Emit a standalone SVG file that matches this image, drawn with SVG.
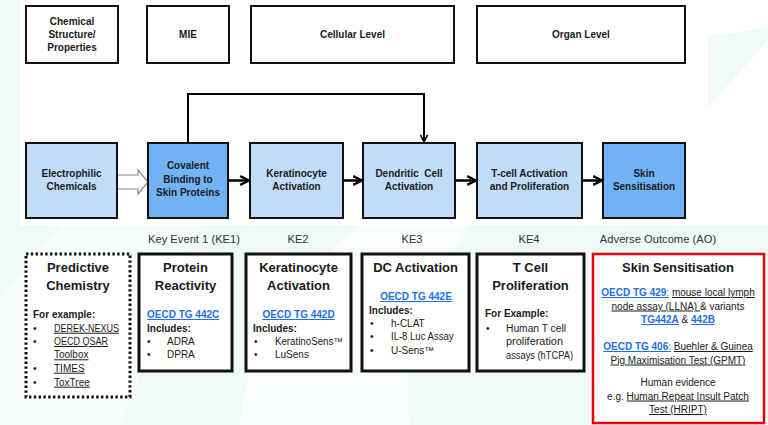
<svg xmlns="http://www.w3.org/2000/svg" width="768" height="425" viewBox="0 0 768 425">
  <defs>
    <marker id="arrow" viewBox="0 0 10 10" refX="9" refY="5" markerWidth="11" markerHeight="11" markerUnits="userSpaceOnUse" orient="auto">
      <path d="M1,1 L9,5 L1,9" fill="none" stroke="#000" stroke-width="2.2" stroke-linejoin="miter"/>
    </marker>
    <marker id="arrowSmall" viewBox="0 0 10 10" refX="9" refY="5" markerWidth="9" markerHeight="9" markerUnits="userSpaceOnUse" orient="auto">
      <path d="M1,1 L9,5 L1,9" fill="none" stroke="#000" stroke-width="1.8"/>
    </marker>
  </defs>
  <style>
    text { font-family: "Liberation Sans", Arial, sans-serif; fill: #1a1a1a; }
    .hdr { fill: #fff; stroke: #111; stroke-width: 2; }
    .light { fill: #c0dcfa; stroke: #111; stroke-width: 2; }
    .dark { fill: #72b3f6; stroke: #111; stroke-width: 2; }
    .panel { fill: #fff; stroke: #111; stroke-width: 3; }
    .dotted { fill: #fff; stroke: #111; stroke-width: 3; stroke-dasharray: 2.4 2.4; }
    .red { fill: #fff; stroke: #e8000b; stroke-width: 2.5; }
    .lbl { font-size: 10px; font-weight: bold; text-anchor: middle; }
    .ke { font-size: 11.2px; text-anchor: middle; fill: #333; }
    .title { font-size: 13px; font-weight: bold; text-anchor: middle; }
    .body { font-size: 10px; }
    .b { font-weight: bold; }
    .c { text-anchor: middle; }
    .link { fill: #1f6fe5; font-weight: bold; text-decoration: underline; }
    .ul { text-decoration: underline; }
    .flow { fill: none; stroke: #000; stroke-width: 2.5; }
  </style>

  <!-- backdrop -->
  <rect x="0" y="0" width="768" height="425" fill="#eff9f7"/>
  <polygon points="0,300 60,226 200,226 120,425 0,425" fill="#f6fcfb"/>
  <path d="M240,425 C250,330 300,270 360,226 L470,226 C420,300 400,360 410,425 Z" fill="#f8fdfc"/>
  <rect x="20" y="0" width="688" height="226" fill="#fff"/>
  <polygon points="697,0 768,0 768,28 697,38" fill="#fff"/>
  <polygon points="697,120 768,40 768,226 697,226" fill="#fff"/>

  <!-- level headers -->
  <g id="hdr-chemical">
    <rect class="hdr" x="26" y="6" width="92" height="57"/>
    <text class="lbl" x="72" y="24.5">Chemical</text>
    <text class="lbl" x="72" y="37.8">Structure/</text>
    <text class="lbl" x="72" y="51">Properties</text>
  </g>
  <g id="hdr-mie">
    <rect class="hdr" x="147" y="6" width="82" height="57"/>
    <text class="lbl" x="188" y="38">MIE</text>
  </g>
  <g id="hdr-cellular">
    <rect class="hdr" x="251" y="6" width="203" height="57"/>
    <text class="lbl" x="352.5" y="38">Cellular Level</text>
  </g>
  <g id="hdr-organ">
    <rect class="hdr" x="477" y="6" width="208" height="57"/>
    <text class="lbl" x="581" y="38">Organ Level</text>
  </g>

  <!-- pathway connectors -->
  <g id="connectors">
    <polygon points="117,175 138,175 138,170 148,182 138,194 138,189 117,189" fill="#fff" stroke="#8a8a8a" stroke-width="1.2"/>
    <path class="flow" d="M228,180.5 H249" marker-end="url(#arrow)"/>
    <path class="flow" d="M343,180.5 H362" marker-end="url(#arrow)"/>
    <path class="flow" d="M455,180.5 H476" marker-end="url(#arrow)"/>
    <path class="flow" d="M582,180.5 H602" marker-end="url(#arrow)"/>
    <path d="M188,143 V94 H424 V142" fill="none" stroke="#000" stroke-width="2" marker-end="url(#arrowSmall)"/>
  </g>

  <!-- pathway events -->
  <g id="electrophilic">
    <rect class="light" x="26" y="143" width="91" height="75"/>
    <text class="lbl" x="71.5" y="176.7">Electrophilic</text>
    <text class="lbl" x="71.5" y="190">Chemicals</text>
  </g>
  <g id="covalent">
    <rect class="dark" x="148" y="143" width="80" height="75"/>
    <text class="lbl" x="188" y="169.3">Covalent</text>
    <text class="lbl" x="188" y="183">Binding to</text>
    <text class="lbl" x="188" y="196.3">Skin Proteins</text>
  </g>
  <g id="keratinocyte">
    <rect class="light" x="250" y="143" width="93" height="75"/>
    <text class="lbl" x="296.5" y="176.7">Keratinocyte</text>
    <text class="lbl" x="296.5" y="190">Activation</text>
  </g>
  <g id="dendritic">
    <rect class="light" x="363" y="143" width="92" height="75"/>
    <text class="lbl" x="409" y="176.7" xml:space="preserve">Dendritic  Cell</text>
    <text class="lbl" x="409" y="190">Activation</text>
  </g>
  <g id="tcell">
    <rect class="light" x="477" y="143" width="105" height="75"/>
    <text class="lbl" x="529.5" y="176.7">T-cell Activation</text>
    <text class="lbl" x="529.5" y="190">and Proliferation</text>
  </g>
  <g id="skin">
    <rect class="dark" x="603" y="143" width="82" height="75"/>
    <text class="lbl" x="644" y="176.7">Skin</text>
    <text class="lbl" x="644" y="190">Sensitisation</text>
  </g>

  <!-- event labels -->
  <g id="event-labels">
    <text class="ke" x="194" y="243">Key Event 1 (KE1)</text>
    <text class="ke" x="298" y="243">KE2</text>
    <text class="ke" x="412" y="243">KE3</text>
    <text class="ke" x="529" y="243">KE4</text>
    <text class="ke" x="658" y="243">Adverse Outcome (AO)</text>
  </g>

  <!-- assay panels -->
  <g id="predictive-chemistry">
    <rect class="dotted" x="26" y="254" width="104" height="143"/>
    <text class="title" x="78" y="272">Predictive</text>
    <text class="title" x="78" y="290">Chemistry</text>
    <text class="body b" x="33" y="318">For example:</text>
    <text class="body" x="33" y="331.7">•</text>
    <text class="body ul" x="54" y="331.7" textLength="65" lengthAdjust="spacingAndGlyphs">DEREK-NEXUS</text>
    <text class="body" x="33" y="345">•</text>
    <text class="body ul" x="54" y="345" textLength="54" lengthAdjust="spacingAndGlyphs">OECD QSAR</text>
    <text class="body ul" x="54" y="358.3">Toolbox</text>
    <text class="body" x="33" y="371.7">•</text>
    <text class="body ul" x="54" y="371.7">TIMES</text>
    <text class="body" x="33" y="385.7">•</text>
    <text class="body ul" x="54" y="385.7">ToxTree</text>
  </g>

  <g id="protein-reactivity">
    <rect class="panel" x="139" y="254" width="93" height="117"/>
    <text class="title" x="185.5" y="272">Protein</text>
    <text class="title" x="185.5" y="290">Reactivity</text>
    <text class="body link" x="147" y="318">OECD TG 442C</text>
    <text class="body b" x="147" y="331.7">Includes:</text>
    <text class="body" x="147" y="345">•</text>
    <text class="body" x="167" y="345">ADRA</text>
    <text class="body" x="147" y="358.3">•</text>
    <text class="body" x="167" y="358.3">DPRA</text>
  </g>

  <g id="keratinocyte-activation">
    <rect class="panel" x="246" y="254" width="105" height="117"/>
    <text class="title" x="298.5" y="272">Keratinocyte</text>
    <text class="title" x="298.5" y="290">Activation</text>
    <text class="body link c" x="298.5" y="318">OECD TG 442D</text>
    <text class="body b" x="253" y="331.7">Includes:</text>
    <text class="body" x="254" y="344.5">•</text>
    <text class="body" x="275" y="344.5" textLength="68" lengthAdjust="spacingAndGlyphs">KeratinoSens™</text>
    <text class="body" x="254" y="358">•</text>
    <text class="body" x="275" y="358">LuSens</text>
  </g>

  <g id="dc-activation">
    <rect class="panel" x="362" y="254" width="107" height="117"/>
    <text class="title" x="415.5" y="272">DC Activation</text>
    <text class="body link c" x="416" y="300">OECD TG 442E</text>
    <text class="body b" x="369" y="313.5">Includes:</text>
    <text class="body" x="370" y="326.8">•</text>
    <text class="body" x="391" y="326.8">h-CLAT</text>
    <text class="body" x="370" y="340.2">•</text>
    <text class="body" x="391" y="340.2" textLength="62.5" lengthAdjust="spacingAndGlyphs">IL-8 Luc Assay</text>
    <text class="body" x="370" y="353.6">•</text>
    <text class="body" x="391" y="353.6">U-Sens™</text>
  </g>

  <g id="tcell-proliferation">
    <rect class="panel" x="477" y="254" width="107" height="117"/>
    <text class="title" x="530.5" y="272">T Cell</text>
    <text class="title" x="530.5" y="290">Proliferation</text>
    <text class="body b" x="485" y="317">For Example:</text>
    <text class="body" x="486" y="331.5">•</text>
    <text class="body" x="506" y="331.5" textLength="60" lengthAdjust="spacingAndGlyphs">Human T cell</text>
    <text class="body" x="506" y="345" textLength="57" lengthAdjust="spacingAndGlyphs">proliferation</text>
    <text class="body" x="506" y="358.5" textLength="67" lengthAdjust="spacingAndGlyphs">assays (hTCPA)</text>
  </g>

  <g id="skin-sensitisation">
    <rect class="red" x="593" y="254" width="171" height="169"/>
    <text class="title" x="678" y="272">Skin Sensitisation</text>
    <text class="body c" x="678" y="296"><tspan class="link">OECD TG 429</tspan><tspan fill="#1f6fe5" class="ul">:</tspan> <tspan class="ul">mouse local lymph</tspan></text>
    <text class="body c" x="678" y="309.5"><tspan class="ul">node assay (LLNA) </tspan>&amp; variants</text>
    <text class="body c" x="678" y="323"><tspan class="link">TG442A</tspan> &amp; <tspan class="link">442B</tspan></text>
    <text class="body c" x="678" y="350"><tspan class="link">OECD TG 406</tspan><tspan fill="#1f6fe5" class="ul">:</tspan> <tspan class="ul">Buehler &amp; Guinea</tspan></text>
    <text class="body c ul" x="678" y="363.5">Pig Maximisation Test (GPMT)</text>
    <text class="body c" x="678" y="386">Human evidence</text>
    <text class="body c" x="678" y="399.5">e.g. <tspan class="ul">Human Repeat Insult Patch</tspan></text>
    <text class="body c ul" x="678" y="413">Test (HRIPT)</text>
  </g>
</svg>
